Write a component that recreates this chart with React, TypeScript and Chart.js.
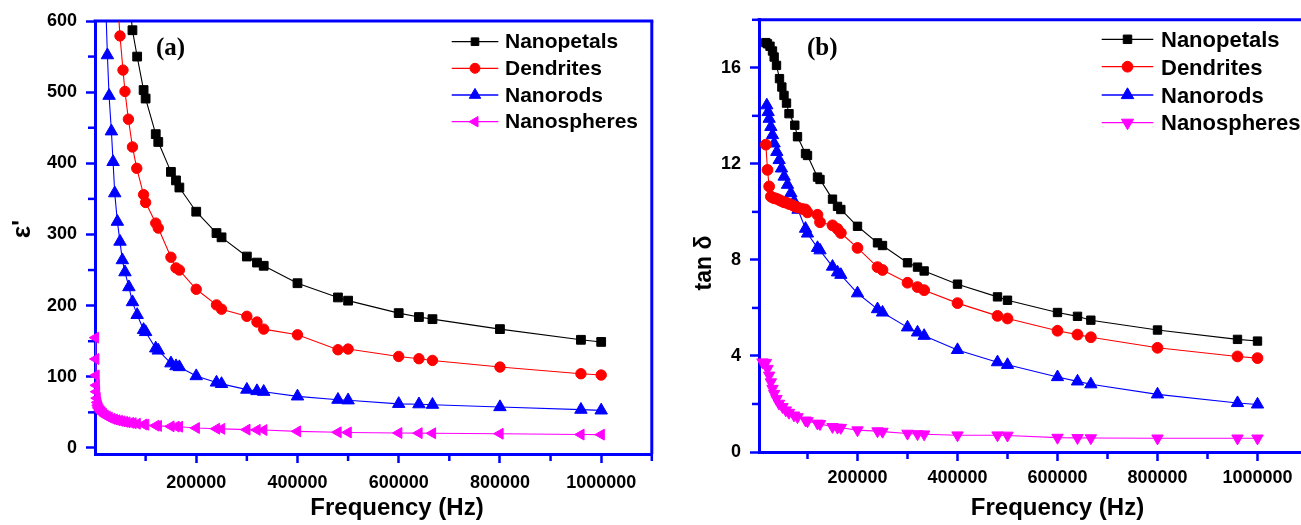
import React, { useEffect, useRef } from 'react';
import { Chart, registerables } from 'chart.js';
import { drawPoint } from 'chart.js/helpers';

Chart.register(...registerables);

const BLUE = '#0000ff';
const SANS = '"Liberation Sans", Arial, sans-serif';
const SERIF = '"Liberation Serif", "Times New Roman", serif';

// ---------- shared data ----------
const SERIES_NAMES = ['Nanopetals', 'Dendrites', 'Nanorods', 'Nanospheres'];
const SERIES_COLORS = ['#000000', '#ff0000', '#0000ff', '#ff00ff'];

const HIGH_FREQ = [96000, 100000, 120000, 125000, 150000, 160000, 166700, 200000, 240000, 250000, 300000, 320000, 333300, 400000, 480000, 500000, 600000, 640000, 666700, 800000, 960000, 1000000];

const X_TICKS = [200000, 400000, 600000, 800000, 1000000];
const X_MINOR = [100000, 300000, 500000, 700000, 900000, 1100000];

// ---------- panel (a): dielectric constant ε' ----------
const Y_TICKS_A = [0, 100, 200, 300, 400, 500, 600];
const Y_MINOR_A = [50, 150, 250, 350, 450, 550];

const petalsLowFreqA = [66700, 74000, 83300];
const petalsEpsA = [640, 587, 550, 503, 491, 441, 430, 388, 376, 366, 332, 302, 296, 269, 260.5, 256, 231.5, 211.5, 207, 189.5, 184, 181, 167, 152, 149];

const dendritesLowFreqA = [45000, 49400, 55300, 59200, 66000, 74000, 82500];
const dendritesEpsA = [625, 579, 531, 501, 462, 423, 393, 356, 345, 316, 309, 268, 253, 250, 223, 201, 195, 185, 177, 167, 159, 138, 139, 128.6, 125.4, 123, 113.7, 104.3, 102.5];

const rodsLowFreqA = [20000, 24500, 27800, 32400, 35700, 39000, 44200, 49400, 54000, 59200, 67000, 74000, 83300];
const rodsEpsA = [650, 552, 495, 445, 402, 358, 318, 290, 264, 247, 226, 205, 187, 166, 163, 140, 137, 119, 115, 113.7, 101, 92, 90, 82, 80, 79, 72.5, 67.8, 67, 62, 61.5, 60.8, 57.5, 53.8, 52.8];

const spheresLowFreqA = [1000, 1500, 2000, 2500, 3000, 4000, 5000, 6000, 7000, 8000, 10000, 12000, 14000, 16700, 20000, 24000, 28000, 33300, 38000, 43000, 48000, 53000, 58000, 63000, 70000, 75000, 83300];
const spheresEpsA = [155, 125, 102, 88, 79, 70, 64, 60, 57.5, 55.5, 53, 51, 49.5, 47.8, 45.5, 44, 42.5, 41, 40, 39, 38.2, 37.4, 36.7, 36, 35.3, 34.8, 34, 33, 32.7, 31.3, 31, 30.3, 30, 29.8, 28, 27, 26.8, 25.7, 25.4, 25.2, 23.3, 22, 21.8, 21, 20.8, 20.6, 20, 18.8, 18.7];

// ---------- panel (b): tan δ ----------
const Y_TICKS_B = [0, 4, 8, 12, 16];
const Y_MINOR_B = [2, 6, 10, 14, 18];

const petalsLowFreqB = [16700, 20000, 25000, 30000, 33300, 38000, 44000, 48700, 53000, 58000, 63000, 74600, 80000];
const petalsTanB = [17.05, 17.0, 16.9, 16.7, 16.45, 16.1, 15.55, 15.2, 14.85, 14.53, 14.09, 13.61, 13.13, 12.43, 12.35, 11.45, 11.35, 10.53, 10.23, 10.1, 9.4, 8.71, 8.6, 7.88, 7.7, 7.54, 6.99, 6.46, 6.32, 5.81, 5.65, 5.49, 5.08, 4.69, 4.62];

const dendritesLowFreqB = [16700, 20000, 23300, 26700, 30000, 33300, 38000, 43000, 48000, 53000, 58000, 63000, 70000, 75000, 81000, 90000];
const dendritesTanB = [12.8, 11.75, 11.06, 10.64, 10.6, 10.57, 10.55, 10.5, 10.45, 10.4, 10.38, 10.33, 10.28, 10.22, 10.18, 10.12, 10.1, 9.98, 9.88, 9.57, 9.44, 9.29, 9.12, 8.5, 7.7, 7.58, 7.05, 6.87, 6.74, 6.2, 5.67, 5.56, 5.05, 4.89, 4.78, 4.34, 3.98, 3.91];

const rodsLowFreqB = [18600, 21300, 23300, 26700, 30000, 33300, 38600, 43300, 48000, 53300, 60000, 66700, 73300, 81000];
const rodsTanB = [14.44, 14.16, 13.88, 13.54, 13.2, 12.85, 12.5, 12.16, 11.81, 11.47, 11.13, 10.78, 10.43, 10.09, 9.3, 9.1, 8.5, 8.4, 7.72, 7.48, 7.38, 6.61, 5.95, 5.81, 5.19, 4.98, 4.84, 4.25, 3.74, 3.63, 3.12, 2.94, 2.82, 2.4, 2.04, 1.98];

const spheresLowFreqB = [10000, 16700, 20000, 23300, 26700, 30000, 33300, 38000, 43000, 50000, 56600, 63000, 73000, 80000];
const spheresTanB = [3.74, 3.72, 3.47, 3.19, 2.91, 2.64, 2.43, 2.22, 2.02, 1.88, 1.74, 1.64, 1.53, 1.46, 1.32, 1.29, 1.19, 1.17, 1.05, 1.02, 1.01, 0.91, 0.87, 0.85, 0.77, 0.75, 0.74, 0.7, 0.7, 0.69, 0.6, 0.59, 0.58, 0.57, 0.57, 0.57];

// ---------- helpers ----------
type Pt = { x: number; y: number };
function toPoints(lowFreq: number[], values: number[]): Pt[] {
  const f = [...lowFreq, ...HIGH_FREQ];
  return values.map((v, i) => ({ x: f[i], y: v }));
}

interface SeriesCfg {
  data: Pt[];
  style: string;
  rotation: number;
  radius: number;
  legendRadius: number;
}

interface PanelCfg {
  key: string;
  left: number;
  width: number;
  height: number;
  area: { left: number; top: number; right: number; bottom: number };
  xMin: number;
  xMax: number;
  yMin: number;
  yMax: number;
  yTicks: number[];
  yMinor: number[];
  series: SeriesCfg[];
  legend: { x1: number; x2: number; rows: number[]; baselines: number[]; textX: number; size: number };
  label: { text: string; x: number; y: number; size: number };
  xTitle: { x: number; y: number };
  yTitle: { text: string; x: number; y: number; size: number };
  xPad: number;
  yPad: number;
}

const PANEL_A: PanelCfg = {
  key: 'a',
  left: 0,
  width: 660,
  height: 525,
  area: { left: 95, top: 21, right: 653, bottom: 454 },
  xMin: 0,
  xMax: 1100000,
  yMin: -8.5,
  yMax: 600,
  yTicks: Y_TICKS_A,
  yMinor: Y_MINOR_A,
  series: [
    { data: toPoints(petalsLowFreqA, petalsEpsA), style: 'rect', rotation: 0, radius: 6.2, legendRadius: 5.4 },
    { data: toPoints(dendritesLowFreqA, dendritesEpsA), style: 'circle', rotation: 0, radius: 5.2, legendRadius: 5 },
    { data: toPoints(rodsLowFreqA, rodsEpsA), style: 'triangle', rotation: 0, radius: 7.2, legendRadius: 6.6 },
    { data: toPoints(spheresLowFreqA, spheresEpsA), style: 'triangle', rotation: -90, radius: 6.3, legendRadius: 6 },
  ],
  legend: { x1: 451.7, x2: 498.3, rows: [41.7, 68.3, 95, 121.7], baselines: [47.7, 75, 101.7, 128.3], textX: 505, size: 21 },
  label: { text: '(a)', x: 170.5, y: 54.5, size: 25 },
  xTitle: { x: 397, y: 515 },
  yTitle: { text: "ε'", x: 22.5, y: 229, size: 26 },
  xPad: 9,
  yPad: 9,
};

const PANEL_B: PanelCfg = {
  key: 'b',
  left: 660,
  width: 660,
  height: 525,
  area: { left: 99, top: 18, right: 647.5, bottom: 452 },
  xMin: 3000,
  xMax: 1100000,
  yMin: 0,
  yMax: 18,
  yTicks: Y_TICKS_B,
  yMinor: Y_MINOR_B,
  series: [
    { data: toPoints(petalsLowFreqB, petalsTanB), style: 'rect', rotation: 0, radius: 5.9, legendRadius: 6 },
    { data: toPoints(dendritesLowFreqB, dendritesTanB), style: 'circle', rotation: 0, radius: 5.4, legendRadius: 5.4 },
    { data: toPoints(rodsLowFreqB, rodsTanB), style: 'triangle', rotation: 0, radius: 7.1, legendRadius: 7.2 },
    { data: toPoints(spheresLowFreqB, spheresTanB), style: 'triangle', rotation: 180, radius: 6.6, legendRadius: 7 },
  ],
  legend: { x1: 441.7, x2: 493.3, rows: [39.3, 66.7, 95, 122.7], baselines: [46.7, 75, 102.7, 130], textX: 501, size: 22 },
  label: { text: '(b)', x: 162.3, y: 54.5, size: 25 },
  xTitle: { x: 397.5, y: 515 },
  yTitle: { text: 'tan δ', x: 44.5, y: 263, size: 23 },
  xPad: 6,
  yPad: 9,
};

function decorPlugin(cfg: PanelCfg) {
  return {
    id: 'decor_' + cfg.key,
    beforeDatasetsDraw(chart: any) {
      const { ctx, chartArea: a, scales } = chart;
      const xs = scales.x;
      const ys = scales.y;
      ctx.save();
      ctx.strokeStyle = BLUE;
      ctx.lineWidth = 3;
      ctx.lineCap = 'butt';
      ctx.beginPath();
      ctx.moveTo(a.left - 1.5, a.top);
      ctx.lineTo(a.right + 1.5, a.top);
      ctx.stroke();
      ctx.beginPath();
      ctx.moveTo(a.right, a.top);
      ctx.lineTo(a.right, a.bottom);
      ctx.stroke();
      ctx.lineWidth = 2.5;
      for (const v of cfg.yMinor) {
        const py = ys.getPixelForValue(v);
        ctx.beginPath();
        ctx.moveTo(a.left - 7, py);
        ctx.lineTo(a.left, py);
        ctx.stroke();
      }
      for (const v of X_MINOR) {
        const px = xs.getPixelForValue(v);
        ctx.beginPath();
        ctx.moveTo(px, a.bottom);
        ctx.lineTo(px, a.bottom + 7);
        ctx.stroke();
      }
      ctx.restore();
    },
    afterDraw(chart: any) {
      const { ctx } = chart;
      ctx.save();
      const lg = cfg.legend;
      cfg.series.forEach((s, i) => {
        const y = lg.rows[i];
        const color = SERIES_COLORS[i];
        ctx.strokeStyle = color;
        ctx.lineWidth = 1.3;
        ctx.beginPath();
        ctx.moveTo(lg.x1, y);
        ctx.lineTo(lg.x2, y);
        ctx.stroke();
        ctx.fillStyle = color;
        ctx.lineWidth = 1;
        drawPoint(ctx, { pointStyle: s.style as any, rotation: s.rotation, radius: s.legendRadius, borderWidth: 1 } as any, (lg.x1 + lg.x2) / 2, y);
        ctx.fillStyle = '#000';
        ctx.font = `bold ${lg.size}px ${SANS}`;
        ctx.textAlign = 'left';
        ctx.textBaseline = 'alphabetic';
        ctx.fillText(SERIES_NAMES[i], lg.textX, lg.baselines[i]);
      });
      // panel label
      ctx.fillStyle = '#000';
      ctx.font = `bold ${cfg.label.size}px ${SERIF}`;
      ctx.textAlign = 'center';
      ctx.textBaseline = 'alphabetic';
      ctx.fillText(cfg.label.text, cfg.label.x, cfg.label.y);
      // x title
      ctx.font = `bold 24px ${SANS}`;
      ctx.fillText('Frequency (Hz)', cfg.xTitle.x, cfg.xTitle.y);
      // y title
      ctx.translate(cfg.yTitle.x, cfg.yTitle.y);
      ctx.rotate(-Math.PI / 2);
      ctx.font = `bold ${cfg.yTitle.size}px ${SANS}`;
      ctx.textBaseline = 'middle';
      ctx.fillText(cfg.yTitle.text, 0, 0);
      ctx.restore();
    },
  };
}

function Panel({ cfg }: { cfg: PanelCfg }) {
  const ref = useRef<HTMLCanvasElement>(null);
  useEffect(() => {
    const canvas = ref.current;
    if (!canvas) return;
    const tickFont = { family: SANS, size: 18, weight: 'bold' as const };
    const chart = new Chart(canvas, {
      type: 'line',
      data: {
        datasets: cfg.series.map((s, i) => ({
          label: SERIES_NAMES[i],
          data: s.data,
          borderColor: SERIES_COLORS[i],
          backgroundColor: SERIES_COLORS[i],
          pointBackgroundColor: SERIES_COLORS[i],
          pointBorderColor: SERIES_COLORS[i],
          pointStyle: s.style as any,
          pointRotation: s.rotation,
          pointRadius: s.radius,
          pointBorderWidth: 1,
          borderWidth: 1.1,
          tension: 0,
          clip: { left: 10, top: 0, right: 10, bottom: 10 } as any,
        })),
      },
      options: {
        responsive: false,
        animation: false,
        devicePixelRatio: 1,
        events: [],
        layout: {
          padding: { left: 0, top: cfg.area.top, right: cfg.width - cfg.area.right, bottom: 0 },
        },
        plugins: {
          legend: { display: false },
          tooltip: { enabled: false },
          title: { display: false },
        },
        scales: {
          x: {
            type: 'linear',
            min: cfg.xMin,
            max: cfg.xMax,
            bounds: 'data',
            afterFit: (s: any) => {
              s.height = cfg.height - cfg.area.bottom;
            },
            afterBuildTicks: (s: any) => {
              s.ticks = X_TICKS.map((v) => ({ value: v }));
            },
            ticks: {
              callback: (v: any) => String(v),
              font: tickFont,
              color: '#000',
              padding: cfg.xPad,
              maxRotation: 0,
              autoSkip: false,
            },
            grid: {
              display: true,
              drawOnChartArea: false,
              drawTicks: true,
              tickLength: 9,
              tickWidth: 2.5,
              tickColor: BLUE,
            },
            border: { display: true, color: BLUE, width: 3 },
          },
          y: {
            type: 'linear',
            min: cfg.yMin,
            max: cfg.yMax,
            bounds: 'data',
            afterFit: (s: any) => {
              s.width = cfg.area.left;
            },
            afterBuildTicks: (s: any) => {
              s.ticks = cfg.yTicks.map((v) => ({ value: v }));
            },
            ticks: {
              callback: (v: any) => String(v),
              font: tickFont,
              color: '#000',
              padding: cfg.yPad,
              autoSkip: false,
            },
            grid: {
              display: true,
              drawOnChartArea: false,
              drawTicks: true,
              tickLength: 9,
              tickWidth: 2.5,
              tickColor: BLUE,
            },
            border: { display: true, color: BLUE, width: 3 },
          },
        },
      },
      plugins: [decorPlugin(cfg)],
    } as any);
    return () => chart.destroy();
  }, [cfg]);
  return (
    <canvas
      ref={ref}
      width={cfg.width}
      height={cfg.height}
      style={{ position: 'absolute', left: cfg.left, top: 0, width: cfg.width, height: cfg.height }}
    />
  );
}

export default function App() {
  return (
    <div
      style={{
        position: 'fixed',
        left: 0,
        top: 0,
        width: 1301,
        height: 525,
        overflow: 'hidden',
        background: '#ffffff',
      }}
    >
      <Panel cfg={PANEL_A} />
      <Panel cfg={PANEL_B} />
    </div>
  );
}
